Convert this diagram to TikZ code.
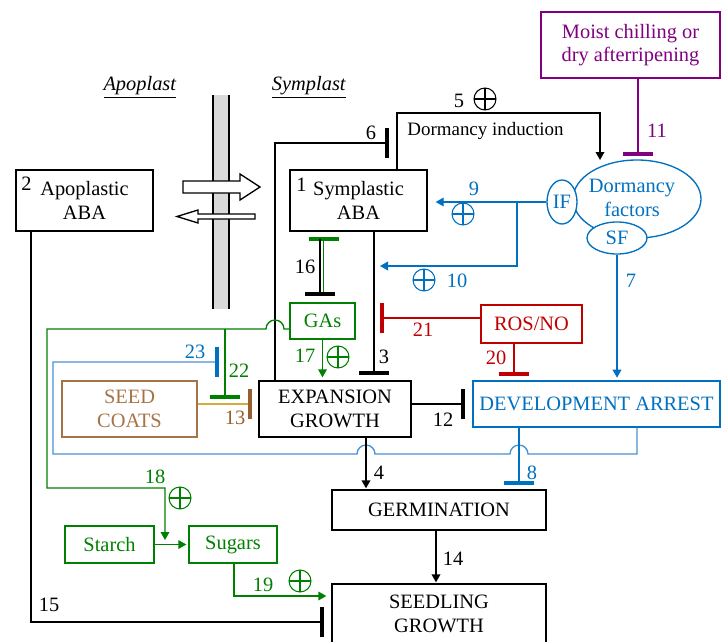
\documentclass[tikz,border=0pt]{standalone}
\usepackage{fontspec}
\setmainfont{Liberation Serif}
\usetikzlibrary{arrows.meta, shapes.geometric}
\definecolor{dblue}{RGB}{0,112,192}
\definecolor{lblue}{RGB}{70,145,210}
\definecolor{dgreen}{RGB}{0,128,0}
\definecolor{dred}{RGB}{192,0,0}
\definecolor{dpurple}{RGB}{128,0,128}
\definecolor{dbrown}{RGB}{150,95,45}
\definecolor{lbrown}{RGB}{165,115,70}
\definecolor{gold}{RGB}{215,170,60}

\begin{document}
\begin{tikzpicture}[x=0.75pt, y=-0.75pt,
  font=\fontsize{15.3}{17.5}\selectfont,
  box/.style={draw, line width=1pt, align=center, inner sep=0pt},
  oval/.style={draw, ellipse, line width=1pt, align=center, inner sep=0pt},
  num/.style={inner sep=0pt},
  ln/.style={line width=1pt},
  arr/.style={ln, -{Triangle[length=6pt,width=6.5pt]}},
  inh/.style={ln, -{Bar[width=22.5pt,line width=3.3pt]}},
  inhc/.style={ln, -{Bar[width=22.5pt,line width=3.3pt,color=#1]}},
  oplus/.style={circle, draw, line width=0.8pt, minimum size=16.5pt, inner sep=0pt,
    path picture={\draw[line width=0.8pt] (path picture bounding box.north) -- (path picture bounding box.south)
      (path picture bounding box.west) -- (path picture bounding box.east);}}]
\useasboundingbox (0,0) rectangle (721,642);
\clip (0,0) rectangle (721,642);

\fill[gray!30] (213,95) rectangle (229,309);
\draw[ln] (213,95) -- (213,309) (229,95) -- (229,309);
\node (apl) at (140,87) {\underline{\textit{Apoplast}}};
\node (sympl) at (309,87) {\underline{\textit{Symplast}}};
\draw[ln, fill=white] (183,181) -- (240,181) -- (240,174) -- (260,187) -- (240,200) -- (240,193) -- (183,193) -- cycle;
\draw[ln, fill=white] (255,214) -- (198,214) -- (198,210) -- (177,216.5) -- (198,223) -- (198,219) -- (255,219) -- cycle;

\node[box, minimum width=102.75pt, minimum height=45.75pt] (apo) at (84.5,200.5) {Apoplastic\\ABA};
\node[num, anchor=base west] (n2) at (21,190) {2};
\node[box, minimum width=102.75pt, minimum height=45.75pt] (symp) at (358.5,200.5) {Symplastic\\ABA};
\node[num, anchor=base west] (n1) at (296,191) {1};
\node[box, dpurple, minimum width=134.25pt, minimum height=49.5pt] (moist) at (630.5,45) {Moist chilling or\\dry afterripening};
\node[oval, dblue, minimum width=96pt, minimum height=58.5pt] (df) at (637,199) {};
\node[align=center, inner sep=0pt, dblue] (dftext) at (632,198) {Dormancy\\factors};
\node[oval, dblue, fill=white, minimum width=22.5pt, minimum height=33pt] (if) at (562,202) {IF};
\node[oval, dblue, fill=white, minimum width=45pt, minimum height=24pt] (sf) at (617,238) {SF};
\node[box, dgreen, minimum width=48.75pt, minimum height=27pt] (gas) at (322.5,321) {GAs};
\node[box, dred, minimum width=75.75pt, minimum height=28.5pt] (ros) at (531.5,324) {ROS/NO};
\node[box, minimum width=114pt, minimum height=42pt] (eg) at (335,409) {EXPANSION\\GROWTH};
\node[box, draw=lbrown, text=lbrown, minimum width=101.25pt, minimum height=42pt] (seed) at (129.5,409) {SEED\\COATS};
\node[box, dblue, minimum width=185.25pt, minimum height=34.5pt] (da) at (596.5,404) {DEVELOPMENT ARREST};
\node[box, minimum width=160.5pt, minimum height=30pt] (germ) at (439,510) {GERMINATION};
\node[box, dgreen, minimum width=66.75pt, minimum height=27.75pt] (starch) at (109.5,544.5) {Starch};
\node[box, dgreen, minimum width=66pt, minimum height=27.75pt] (sugars) at (233,544.5) {Sugars};
\node[box, minimum width=160.5pt, minimum height=60pt] (sg) at (439,624) {};
\node[align=center, inner sep=0pt] (sgtext) at (439,614) {SEEDLING\\GROWTH};

\coordinate (b6) at (389,143);
\coordinate (t5) at (600,160);
\coordinate (t11) at (638,156);
\coordinate (t10) at (380,266);
\coordinate (j22) at (225,329);
\coordinate (t22) at (225,399);
\coordinate (t18) at (165,540);
\coordinate (t23) at (219,362);
\coordinate (t21) at (380,318);

\draw[inh] (eg.north -| 275,0) |- (b6);
\draw[arr] (symp.north -| 397,0) -- (397,113) -| (t5);
\draw[inh, dpurple] (moist.south -| 638,0) -- (t11);
\draw[arr, dblue, shorten >=6pt] (if.west) -- (symp.east |- if.west);
\draw[arr, dblue] (if.west -| 517,0) |- (t10);
\draw[arr, dblue, shorten >=2pt] (sf.south) -- (sf.south |- da.north);
\draw[inh, dgreen, shorten <=6pt, shorten >=3.75pt] (gas.north -| 323.5,0) -- (symp.south -| 323.5,0);
\draw[inh, shorten <=5.25pt, shorten >=4.5pt] (symp.south -| 320,0) -- (gas.north -| 320,0);
\draw[inh, shorten >=3.75pt] (symp.south -| 374,0) -- (eg.north -| 374,0);
\draw[arr, dgreen, shorten >=2.25pt] (gas.south) -- (gas.south |- eg.north);
\draw[arr, dgreen] (gas.west |- 0,329) -- (284,329) arc[start angle=0, end angle=-180, radius=9] -- (47,329) |- (165,488) -- (t18);
\draw[inh, dgreen] (j22) -- (t22);
\draw[inhc=dblue, lblue] (da.south -| 637,0) |- (528,454) arc[start angle=0, end angle=-180, radius=9] -- (375,454) arc[start angle=0, end angle=-180, radius=9] -- (53,454) |- (t23);
\draw[inh, dblue, shorten >=3pt] (da.south -| 519,0) -- (germ.north -| 519,0);
\draw[arr, shorten >=0.75pt] (eg.south -| 366,0) -- (germ.north -| 366,0);
\draw[inh, shorten >=5.25pt] (eg.east |- 0,404) -- (da.west |- 0,404);
\draw[inhc=dbrown, gold, shorten >=4.5pt] (seed.east |- 0,404) -- (eg.west |- 0,404);
\draw[inh, dred] (ros.west |- 0,318) -- (t21);
\draw[inh, dred, shorten >=3pt] (ros.south -| 514,0) -- (da.north -| 514,0);
\draw[arr, shorten >=0.75pt] (germ.south -| 436,0) -- (sg.north -| 436,0);
\draw[arr, dgreen, shorten >=1.5pt] (starch.east) -- (sugars.west);
\draw[arr, dgreen, shorten >=3.75pt] (sugars.south -| 234,0) |- (sg.west |- 0,596);
\draw[inh, shorten >=5.25pt] (apo.south -| 31,0) |- (sg.west |- 0,622);

\node[num] (n6) at (371,133) {6};
\node[num] (n5) at (459,101) {5};
\node[oplus] (p5) at (485,99) {};
\node[font=\fontsize{14.2}{16}\selectfont, inner sep=0pt] (dind) at (485.5,131) {Dormancy induction};
\node[num, dpurple] (n11) at (657,131) {11};
\node[num, dblue] (n9) at (474,189) {9};
\node[oplus, dblue] (p9) at (463,214) {};
\node[oplus, dblue] (p10) at (424,280) {};
\node[num, dblue] (n10) at (457,281) {10};
\node[num, dblue] (n7) at (631,281) {7};
\node[num] (n16) at (305,267) {16};
\node[num] (n3) at (384,357) {3};
\node[num, dgreen] (n17) at (305,356) {17};
\node[oplus, dgreen] (p17) at (338,357) {};
\node[num, dred] (n21) at (423,330) {21};
\node[num, dred] (n20) at (496,358) {20};
\node[num] (n12) at (443,420) {12};
\node[num, dblue] (n23) at (195,352) {23};
\node[num, dgreen] (n22) at (239,371) {22};
\node[num, dbrown] (n13) at (235,418) {13};
\node[num] (n4) at (379,473) {4};
\node[num, dblue] (n8) at (532,473) {8};
\node[num] (n14) at (453,559) {14};
\node[num, dgreen] (n18) at (155,477) {18};
\node[oplus, dgreen] (p18) at (180,498) {};
\node[num, dgreen] (n19) at (263,585) {19};
\node[oplus, dgreen] (p19) at (300,581) {};
\node[num] (n15) at (49,605) {15};
\end{tikzpicture}
\end{document}
